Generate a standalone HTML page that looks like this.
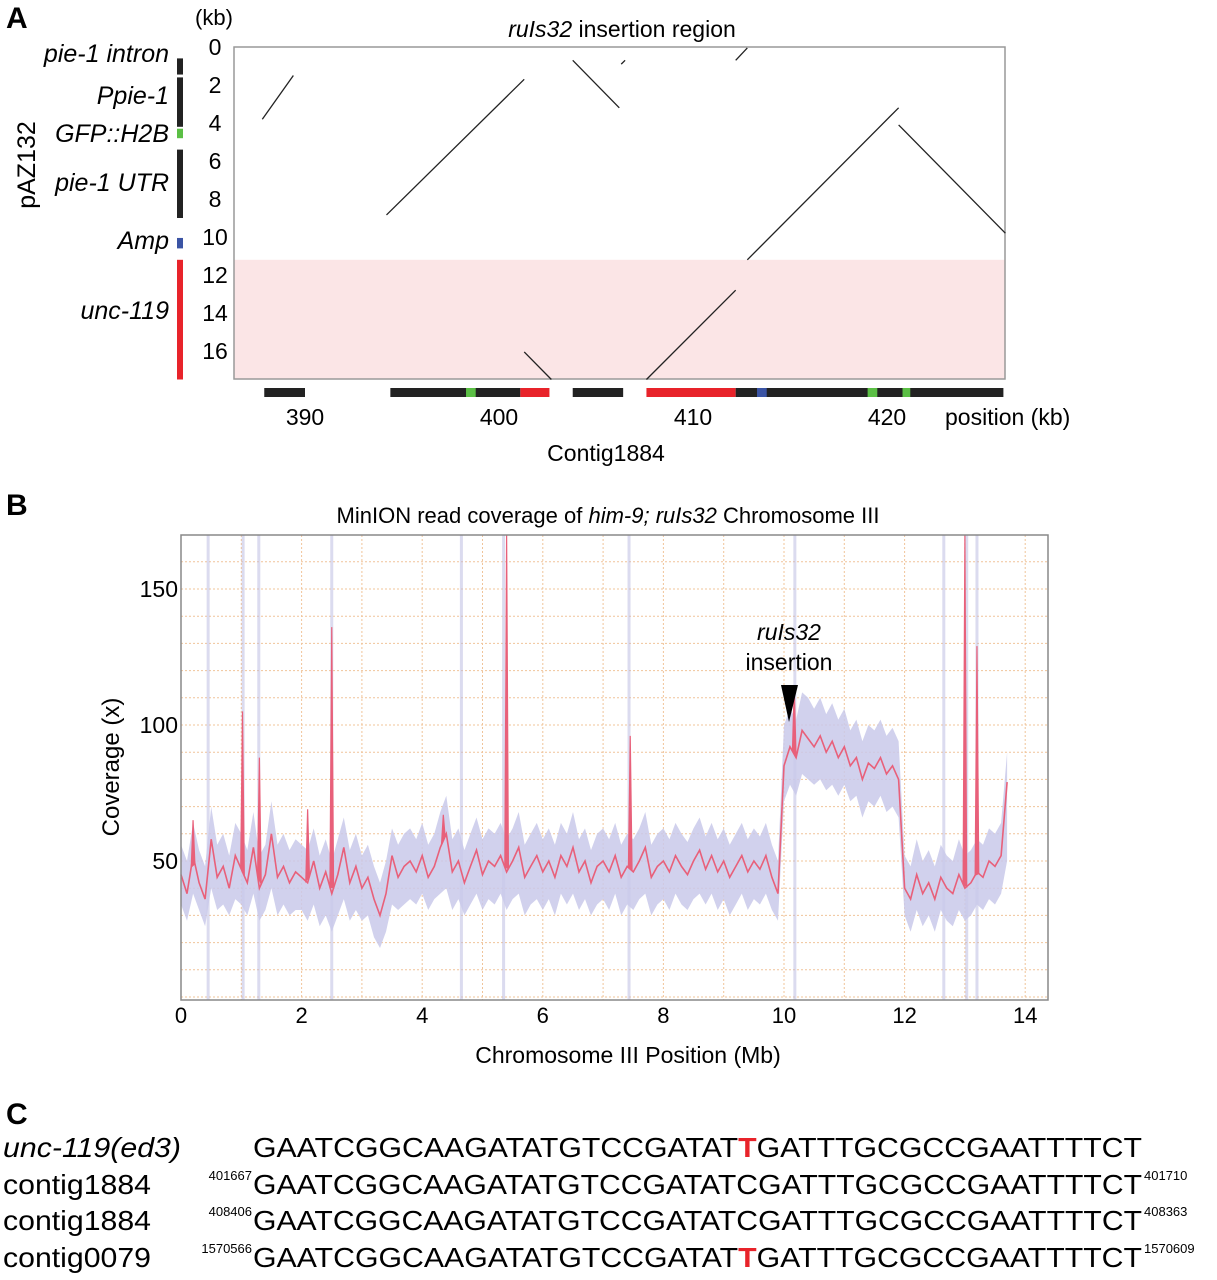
<!DOCTYPE html>
<html><head><meta charset="utf-8"><style>
html,body{margin:0;padding:0;background:#fff;}
svg{display:block;font-family:"Liberation Sans",Arial,sans-serif;}
</style></head><body>
<svg id="fig" width="1217" height="1280" viewBox="0 0 1217 1280" xmlns="http://www.w3.org/2000/svg">
<text x="6" y="28" font-size="30" font-weight="bold">A</text>
<text x="622" y="37" font-size="23" text-anchor="middle"><tspan font-style="italic">ruIs32</tspan> insertion region</text>
<text x="214" y="25" font-size="22" text-anchor="middle">(kb)</text>
<text transform="translate(35,165) rotate(-90)" font-size="25" text-anchor="middle">pAZ132</text>
<g font-size="25" font-style="italic" text-anchor="end">
<text x="169" y="62">pie-1 intron</text>
<text x="169" y="104">Ppie-1</text>
<text x="169" y="142">GFP::H2B</text>
<text x="169" y="191">pie-1 UTR</text>
<text x="169" y="249">Amp</text>
<text x="169" y="319">unc-119</text>
</g>
<g id="panelA"></g>
<text x="945" y="425" font-size="23">position (kb)</text>
<text x="606" y="461" font-size="23" text-anchor="middle">Contig1884</text>

<text x="6" y="515" font-size="30" font-weight="bold">B</text>
<text x="608" y="523" font-size="22" text-anchor="middle">MinION read coverage of <tspan font-style="italic">him-9; ruIs32</tspan> Chromosome III</text>
<g id="panelB"></g>
<text transform="translate(119,767) rotate(-90)" font-size="24" text-anchor="middle">Coverage (x)</text>
<text x="628" y="1063" font-size="23" text-anchor="middle">Chromosome III Position (Mb)</text>
<text x="789" y="640" font-size="23" font-style="italic" text-anchor="middle">ruIs32</text>
<text x="789" y="670" font-size="23" text-anchor="middle">insertion</text>
<polygon points="781,685 798,685 789,722" fill="#000"/>

<text x="6" y="1124" font-size="30" font-weight="bold">C</text>
<g font-size="28">
<text x="3" y="1157" font-style="italic" textLength="178" lengthAdjust="spacingAndGlyphs">unc-119(ed3)</text>
<text x="3" y="1194" textLength="148" lengthAdjust="spacingAndGlyphs">contig1884</text>
<text x="3" y="1230" textLength="148" lengthAdjust="spacingAndGlyphs">contig1884</text>
<text x="3" y="1267" textLength="148" lengthAdjust="spacingAndGlyphs">contig0079</text>
<text x="253" y="1157" textLength="889" lengthAdjust="spacingAndGlyphs">GAATCGGCAAGATATGTCCGATAT<tspan fill="#e8232a" font-weight="bold">T</tspan>GATTTGCGCCGAATTTTCT</text>
<text x="253" y="1194" textLength="889" lengthAdjust="spacingAndGlyphs">GAATCGGCAAGATATGTCCGATATCGATTTGCGCCGAATTTTCT</text>
<text x="253" y="1230" textLength="889" lengthAdjust="spacingAndGlyphs">GAATCGGCAAGATATGTCCGATATCGATTTGCGCCGAATTTTCT</text>
<text x="253" y="1267" textLength="889" lengthAdjust="spacingAndGlyphs">GAATCGGCAAGATATGTCCGATAT<tspan fill="#e8232a" font-weight="bold">T</tspan>GATTTGCGCCGAATTTTCT</text>
</g>
<g font-size="13">
<text x="252" y="1180" text-anchor="end">401667</text>
<text x="1144" y="1180">401710</text>
<text x="252" y="1216" text-anchor="end">408406</text>
<text x="1144" y="1216">408363</text>
<text x="252" y="1253" text-anchor="end">1570566</text>
<text x="1144" y="1253">1570609</text>
</g>
</svg>
<script>
const NS='http://www.w3.org/2000/svg';
const aYTicks=[0,2,4,6,8,10,12,14,16];
const aXTicks=[390,400,410,420];
const dotSegX1=[387.8,394.2,403.8,406.3,412.2,412.8,420.6,407.6,401.3];
const dotSegY1=[3.8,8.84,0.7,0.9,0.7,11.2,4.1,17.5,16.05];
const dotSegX2=[389.4,401.3,406.2,406.5,412.8,420.6,426.1,412.2,402.7];
const dotSegY2=[1.5,1.7,3.2,0.7,0.05,3.2,9.8,12.8,17.5];
const trackStart=[387.9,394.4,401.1,403.8,407.6,412.2];
const trackEnd=[390.0,401.1,402.6,406.4,412.2,426.0];
const trackColor=['#222','#222','#e8232a','#222','#e8232a','#222'];
const markStart=[398.3,413.3,419.0,420.8];
const markEnd=[398.8,413.8,419.5,421.2];
const markColor=['#5bbf45','#3b54a4','#5bbf45','#5bbf45'];
const plasStart=[0.6,1.6,4.3,5.4,10.05,11.2];
const plasEnd=[1.45,4.2,4.8,9.0,10.6,17.5];
const plasColor=['#222','#222','#5bbf45','#222','#3b54a4','#e8232a'];
const pinkStart=11.2, pinkEnd=17.47;

const covMean=[45,38,52,42,36,58,44,48,40,52,
47,42,55,40,45,60,44,48,42,46,
44,42,50,40,46,38,45,55,42,48,
40,44,36,30,38,52,44,48,50,46,
52,44,48,55,60,46,50,42,48,54,
45,50,48,52,46,50,55,44,48,52,
46,50,44,52,48,55,46,50,42,48,
50,46,52,44,48,46,50,55,44,48,
50,46,52,48,45,50,54,47,52,46,
50,44,48,52,46,50,47,52,44,38,
85,92,88,98,95,92,96,90,94,88,
92,85,88,80,86,84,88,82,85,80,
40,36,45,38,42,36,44,40,38,45,
40,42,46,44,50,48,52,79];
const covLo=[34,28,38,32,26,40,32,34,30,36,
34,30,38,28,32,40,30,34,30,32,
32,28,34,26,30,24,30,36,28,32,
28,30,22,18,24,34,32,34,36,34,
38,32,36,38,40,32,36,30,34,38,
32,36,34,38,32,36,38,30,34,36,
32,36,30,38,34,38,32,36,30,34,
36,32,38,30,34,32,36,38,30,34,
36,32,38,34,32,36,38,34,38,32,
36,30,34,38,32,36,34,38,32,28,
72,78,74,82,80,78,80,76,78,74,
78,72,74,66,72,70,74,68,70,66,
30,24,32,26,30,24,32,28,26,32,
28,30,34,32,36,34,38,50];
const covHi=[56,50,64,54,48,70,56,60,52,64,
60,54,68,52,56,72,56,60,54,58,
56,54,62,52,58,50,58,66,54,60,
52,56,48,42,50,62,56,60,62,58,
64,56,60,68,74,58,62,54,60,66,
58,62,60,64,58,62,68,56,60,64,
58,62,56,64,60,68,58,62,54,60,
62,58,64,56,60,58,62,68,56,60,
62,58,64,60,57,62,66,59,64,58,
62,56,60,64,58,62,59,64,56,50,
100,106,102,112,110,106,110,104,108,102,
106,98,102,94,100,98,102,96,99,94,
52,48,58,50,54,48,56,52,50,58,
52,54,58,56,62,60,64,90];
const covStep=0.1;
const spikeX=[0.2,1.02,1.3,2.1,2.5,4.35,5.4,7.45,10.17,13.0,13.2];
const spikeY=[65,105,88,69,136,67,175,96,114,175,129];
const vbandX=[0.45,1.03,1.29,2.5,4.65,5.35,7.43,10.18,12.65,13.03,13.2];
const bXTicks=[0,2,4,6,8,10,12,14];
const bYTicks=[50,100,150];

function mk(tag,attrs,parent){const e=document.createElementNS(NS,tag);for(const k in attrs)e.setAttribute(k,attrs[k]);parent.appendChild(e);return e;}

const gA=document.getElementById('panelA');
const ax=kb=>305+(kb-390)*19.4;
const ay=kb=>47+kb*19;
let r=mk('rect',{x:234,y:ay(pinkStart),width:771,height:ay(pinkEnd)-ay(pinkStart),fill:'#fbe5e6'},gA);


r=mk('rect',{x:234,y:47,width:771,height:332,fill:'none',stroke:'#999','stroke-width':1.5},gA);


for(let i=0;i<dotSegX1.length;i++){
  const l=mk('line',{x1:ax(dotSegX1[i]),y1:ay(dotSegY1[i]),x2:ax(dotSegX2[i]),y2:ay(dotSegY2[i]),stroke:'#222','stroke-width':1.3},gA);
  
  
}
aYTicks.forEach(v=>{
  const t=mk('text',{x:215,y:ay(v)+8,'font-size':23,'text-anchor':'middle'},gA);t.textContent=v;
  
  
});
aXTicks.forEach(v=>{
  const t=mk('text',{x:ax(v),y:425,'font-size':23,'text-anchor':'middle'},gA);t.textContent=v;
  
  
});
for(let i=0;i<trackStart.length;i++){
  const b=mk('rect',{x:ax(trackStart[i]),y:388,width:ax(trackEnd[i])-ax(trackStart[i]),height:9,fill:trackColor[i]},gA);
  
  
}
for(let i=0;i<markStart.length;i++){
  const b=mk('rect',{x:ax(markStart[i]),y:388,width:ax(markEnd[i])-ax(markStart[i]),height:9,fill:markColor[i]},gA);
  
  
}
for(let i=0;i<plasStart.length;i++){
  const b=mk('rect',{x:177,y:ay(plasStart[i]),width:6,height:ay(plasEnd[i])-ay(plasStart[i]),fill:plasColor[i]},gA);
  
  
}

const gB=document.getElementById('panelB');
const bx=v=>181+v*60.3;
const by=v=>997-v*2.72;
const L=181,R=1048,T=535,B=1000;
for(let v=0;v<=17;v++){
  const y=by(v*10); if(y<T) continue;
  const g=mk('line',{x1:L,x2:R,y1:y,y2:y,stroke:'#f0c49a','stroke-width':1,'stroke-dasharray':'2,2'},gB);
  
  
}
for(let v=1;v<=14;v++){
  const g=mk('line',{x1:bx(v),x2:bx(v),y1:T,y2:B,stroke:'#f0c49a','stroke-width':1,'stroke-dasharray':'2,2'},gB);
  
  
}
vbandX.forEach(v=>{
  const b=mk('rect',{x:bx(v)-1.5,y:T,width:3,height:B-T,fill:'#b8b8e0','fill-opacity':0.5},gB);
  
  
});
let d='';
covHi.forEach((v,i)=>{d+=(i?'L':'M')+bx(i*covStep).toFixed(1)+','+by(v).toFixed(1);});
for(let i=covLo.length-1;i>=0;i--){d+='L'+bx(i*covStep).toFixed(1)+','+by(covLo[i]).toFixed(1);}
const band=mk('path',{d:d+'Z',fill:'#c9c9ea','fill-opacity':0.85},gB);


function meanAt(x){const f=x/covStep;const i=Math.max(0,Math.min(covMean.length-2,Math.floor(f)));const t=f-i;return covMean[i]*(1-t)+covMean[i+1]*t;}
let ld='';
covMean.forEach((v,i)=>{ld+=(i?'L':'M')+bx(i*covStep).toFixed(1)+','+by(v).toFixed(1);});
const line=mk('path',{d:ld,fill:'none',stroke:'#e8607a','stroke-width':1.6},gB);


spikeX.forEach((x,i)=>{
  const top=Math.min(spikeY[i],170);
  const p=mk('polygon',{points:`${bx(x-0.03)},${by(meanAt(x-0.03))} ${bx(x)},${by(top)} ${bx(x+0.03)},${by(meanAt(x+0.03))}`,fill:'#e8607a',stroke:'#e8607a','stroke-width':1.2},gB);
  
  
});
const fr=mk('rect',{x:L,y:T,width:R-L,height:B-T,fill:'none',stroke:'#888','stroke-width':1.5},gB);


bXTicks.forEach(v=>{
  const t=mk('text',{x:bx(v),y:1023,'font-size':22,'text-anchor':'middle'},gB);t.textContent=v;
  
  
});
bYTicks.forEach(v=>{
  const t=mk('text',{x:178,y:by(v)+8,'font-size':23,'text-anchor':'end'},gB);t.textContent=v;
  
  
});
</script>
</body></html>
